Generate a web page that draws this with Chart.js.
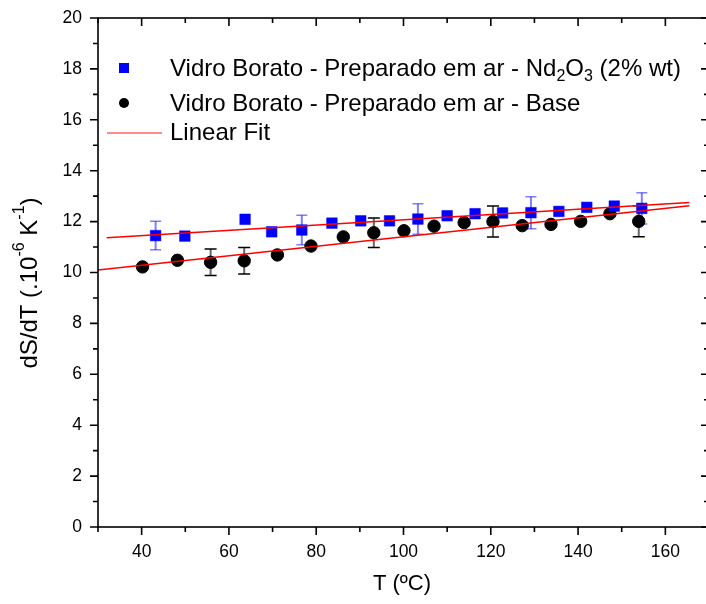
<!DOCTYPE html>
<html>
<head>
<meta charset="utf-8">
<script src="https://cdn.jsdelivr.net/npm/chart.js@4.4.1/dist/chart.umd.min.js"></script>
<style>
  html, body { margin: 0; padding: 0; overflow: hidden; background: #fff; }
  canvas { display: block; }
</style>
</head>
<body>
<canvas id="chart" width="706" height="604"></canvas>
<script>
// Nd2O3 doped borate glass
const tempNd = [43.2, 49.9, 63.7, 69.8, 76.7, 83.6, 90.2, 96.8, 103.3, 110.0, 116.4, 122.7, 129.2, 135.6, 142.0, 148.3, 154.6];
const dsdtNd = [11.45, 11.43, 12.09, 11.6, 11.67, 11.94, 12.03, 12.03, 12.1, 12.23, 12.31, 12.34, 12.35, 12.4, 12.56, 12.61, 12.52];
const errNd = [0.56, 0, 0, 0, 0.58, 0, 0, 0, 0.6, 0, 0, 0, 0.63, 0, 0, 0, 0.61];

// base borate glass
const tempBase = [40.2, 48.2, 55.8, 63.5, 71.1, 78.8, 86.2, 93.2, 100.1, 107.0, 113.9, 120.5, 127.2, 133.8, 140.6, 147.3, 153.9];
const dsdtBase = [10.22, 10.48, 10.4, 10.46, 10.69, 11.04, 11.4, 11.56, 11.64, 11.82, 11.96, 12.0, 11.84, 11.89, 12.01, 12.31, 12.01];
const errBase = [0, 0, 0.52, 0.52, 0, 0, 0, 0.58, 0, 0, 0, 0.61, 0, 0, 0, 0, 0.61];

// linear fits (end points)
const fitNdX = [32, 165.5];
const fitNdY = [11.37, 12.75];
const fitBaseX = [30, 165.5];
const fitBaseY = [10.1, 12.62];

const xTicks = [40, 60, 80, 100, 120, 140, 160];

const FONT = "'Liberation Sans', Arial, sans-serif";

const toPoints = (xs, ys) => xs.map((x, i) => ({ x: x, y: ys[i] }));

// the plot box runs a little past the right edge of the picture
const widenPlot = {
  id: 'widenPlot',
  afterLayout(chart) {
    const a = chart.chartArea;
    const x = chart.scales.x;
    a.right = 709;
    a.width = a.right - a.left;
    x.right = 709;
    x.width = x.right - x.left;
    x.configure();
  },
};

// error bars, drawn under the markers
const errorBars = {
  id: 'errorBars',
  beforeDatasetsDraw(chart) {
    const { ctx, scales: { x, y } } = chart;
    const sets = [
      { xs: tempNd, ys: dsdtNd, err: errNd, line: 'rgba(40,40,255,0.6)', cap: 'rgba(40,40,255,0.6)', w: 11 },
      { xs: tempBase, ys: dsdtBase, err: errBase, line: '#666', cap: '#000', w: 12 },
    ];
    ctx.save();
    sets.forEach((s) => {
      s.xs.forEach((t, i) => {
        if (!s.err[i]) return;
        const px = x.getPixelForValue(t);
        const top = y.getPixelForValue(s.ys[i] + s.err[i]);
        const bot = y.getPixelForValue(s.ys[i] - s.err[i]);
        ctx.strokeStyle = s.line;
        ctx.lineWidth = 2;
        ctx.beginPath();
        ctx.moveTo(px, top);
        ctx.lineTo(px, bot);
        ctx.stroke();
        ctx.strokeStyle = s.cap;
        ctx.lineWidth = 1.5;
        ctx.beginPath();
        ctx.moveTo(px - s.w / 2, top);
        ctx.lineTo(px + s.w / 2, top);
        ctx.moveTo(px - s.w / 2, bot);
        ctx.lineTo(px + s.w / 2, bot);
        ctx.stroke();
      });
    });
    ctx.restore();
  },
};

// draws text pieces with sub/superscripts starting at (x, y), returns end x
function richText(ctx, parts, x, y, size) {
  parts.forEach((p) => {
    const small = p.sup || p.sub;
    ctx.font = (small ? Math.round(size * 0.65) : size) + 'px ' + FONT;
    const dy = p.sup ? -size * 0.42 : p.sub ? size * 0.3 : 0;
    ctx.fillText(p.t, x, y + dy);
    x += ctx.measureText(p.t).width;
  });
  return x;
}

function richWidth(ctx, parts, size) {
  let w = 0;
  parts.forEach((p) => {
    const small = p.sup || p.sub;
    ctx.font = (small ? Math.round(size * 0.65) : size) + 'px ' + FONT;
    w += ctx.measureText(p.t).width;
  });
  return w;
}

// frame, mirrored ticks, axis titles and legend
const frame = {
  id: 'frame',
  afterDraw(chart) {
    const { ctx, chartArea: a, scales: { x, y } } = chart;
    ctx.save();
    ctx.strokeStyle = '#000';
    ctx.lineWidth = 1.6;
    ctx.strokeRect(a.left, a.top, a.right - a.left, a.bottom - a.top);

    ctx.beginPath();
    for (let v = 30; v <= 170; v += 10) {
      const px = x.getPixelForValue(v);
      const len = v % 20 === 0 ? 8 : 5;
      ctx.moveTo(px, a.bottom);
      ctx.lineTo(px, a.bottom + len);
      ctx.moveTo(px, a.top);
      ctx.lineTo(px, a.top + len);
    }
    for (let v = 0; v <= 20; v += 1) {
      const py = y.getPixelForValue(v);
      const len = v % 2 === 0 ? 8 : 5;
      ctx.moveTo(a.left, py);
      ctx.lineTo(a.left - len, py);
      ctx.moveTo(a.right, py);
      ctx.lineTo(a.right - len, py);
    }
    ctx.stroke();

    // axis titles
    ctx.fillStyle = '#000';
    ctx.textBaseline = 'middle';
    ctx.textAlign = 'center';
    ctx.font = '22px ' + FONT;
    ctx.fillText('T (ºC)', 402, 584);

    const yTitle = [
      { t: 'dS/dT (.10' }, { t: '-6', sup: true }, { t: ' K' }, { t: '-1', sup: true }, { t: ')' },
    ];
    ctx.save();
    ctx.translate(30, 283);
    ctx.rotate(-Math.PI / 2);
    ctx.textAlign = 'left';
    const w = richWidth(ctx, yTitle, 24);
    richText(ctx, yTitle, -w / 2, 0, 24);
    ctx.restore();

    // legend
    ctx.textAlign = 'left';
    const tx = 170;
    ctx.fillStyle = '#0000ff';
    ctx.fillRect(119, 63, 10, 10);
    ctx.fillStyle = '#000';
    richText(ctx, [
      { t: 'Vidro Borato - Preparado em ar - Nd' }, { t: '2', sub: true }, { t: 'O' }, { t: '3', sub: true }, { t: ' (2% wt)' },
    ], tx, 69, 24);
    ctx.beginPath();
    ctx.arc(124, 103, 5, 0, Math.PI * 2);
    ctx.fill();
    richText(ctx, [{ t: 'Vidro Borato - Preparado em ar - Base' }], tx, 104, 24);
    ctx.strokeStyle = '#ff6666';
    ctx.lineWidth = 1.5;
    ctx.beginPath();
    ctx.moveTo(107, 133);
    ctx.lineTo(162, 133);
    ctx.stroke();
    richText(ctx, [{ t: 'Linear Fit' }], tx, 133, 24);
    ctx.restore();
  },
};

new Chart(document.getElementById('chart'), {
  type: 'scatter',
  data: {
    datasets: [
      {
        label: 'Linear Fit',
        data: toPoints(fitNdX, fitNdY),
        showLine: true,
        borderColor: '#ff0000',
        borderWidth: 1.5,
        pointRadius: 0,
        order: 0,
      },
      {
        label: 'Linear Fit',
        data: toPoints(fitBaseX, fitBaseY),
        showLine: true,
        borderColor: '#ff0000',
        borderWidth: 1.5,
        pointRadius: 0,
        order: 0,
      },
      {
        label: 'Vidro Borato - Preparado em ar - Nd2O3 (2% wt)',
        data: toPoints(tempNd, dsdtNd),
        pointStyle: 'rect',
        pointRadius: 7.5,
        backgroundColor: '#0000ff',
        borderColor: 'rgba(0,0,255,0.5)',
        borderWidth: 1,
        order: 1,
      },
      {
        label: 'Vidro Borato - Preparado em ar - Base',
        data: toPoints(tempBase, dsdtBase),
        pointStyle: 'circle',
        pointRadius: 6.2,
        backgroundColor: '#000',
        borderColor: '#000',
        borderWidth: 1,
        order: 1,
      },
    ],
  },
  options: {
    responsive: false,
    animation: false,
    devicePixelRatio: 1,
    layout: {
      padding: { top: 18, right: 0, left: 0, bottom: 0 },
    },
    plugins: {
      legend: { display: false },
      tooltip: { enabled: false },
    },
    scales: {
      x: {
        type: 'linear',
        min: 30,
        max: 170,
        afterBuildTicks: (s) => {
          s.ticks = xTicks.map((v) => ({ value: v }));
        },
        afterFit: (s) => {
          s.height = 77;
        },
        grid: { display: false, drawTicks: false },
        border: { display: false },
        ticks: {
          padding: 15,
          color: '#000',
          font: { family: FONT, size: 17.5 },
        },
      },
      y: {
        min: 0,
        max: 20,
        afterFit: (s) => {
          s.width = 98;
          s.paddingTop = 9;
          s.paddingBottom = 9;
        },
        grid: { display: false, drawTicks: false },
        border: { display: false },
        ticks: {
          stepSize: 2,
          padding: 16,
          color: '#000',
          font: { family: FONT, size: 17.5 },
        },
      },
    },
  },
  plugins: [widenPlot, errorBars, frame],
});
</script>
</body>
</html>
